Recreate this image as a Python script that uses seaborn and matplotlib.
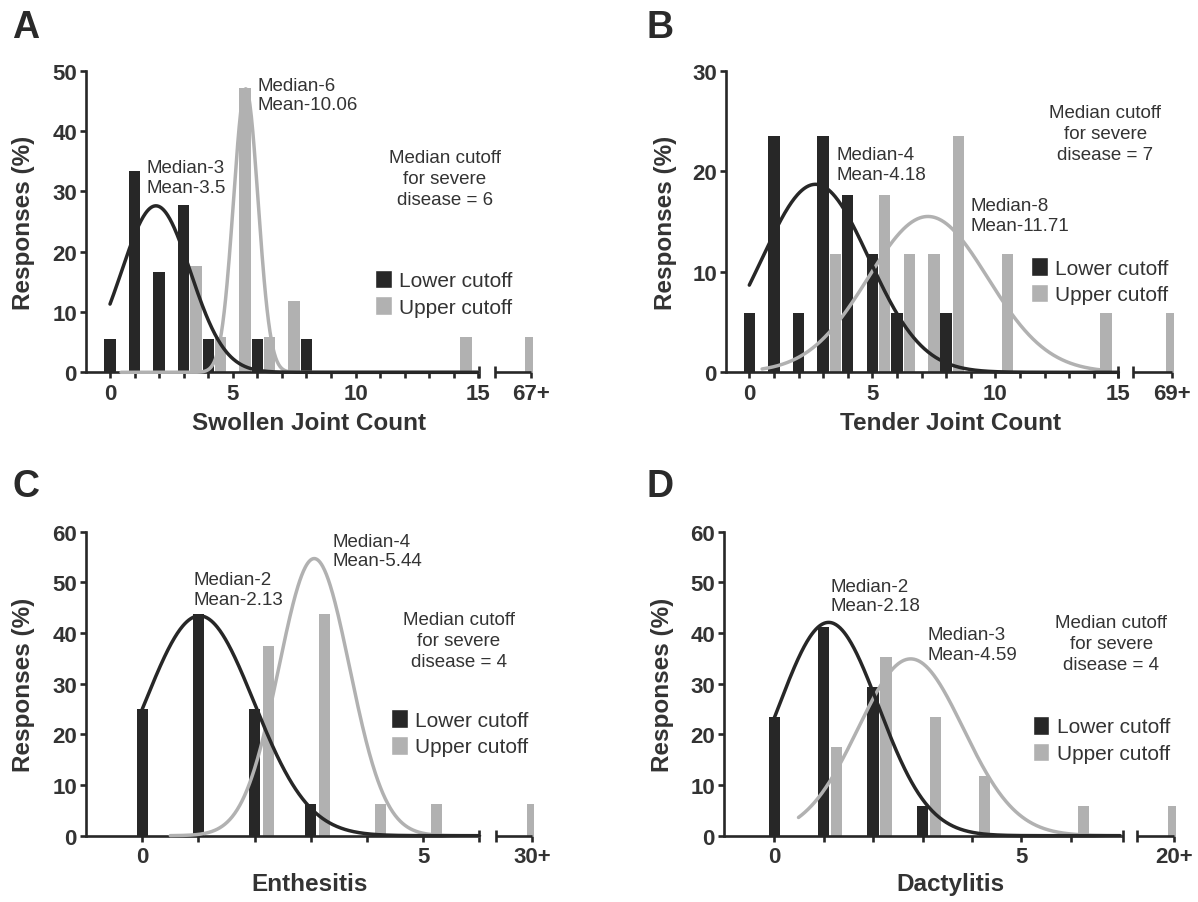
"""Four-panel histogram of lower/upper cutoff responses with Gaussian fits."""
import numpy as np
import matplotlib
matplotlib.use("Agg")
import matplotlib.pyplot as plt
from matplotlib.patches import Patch
import seaborn as sns

sns.set_style("ticks")
plt.rcParams['font.family'] = ['Liberation Sans', 'DejaVu Sans']

DARK = '#272727'
GREY = '#b1b1b1'
TEXT = '#333333'
FIG_W, FIG_H = 1198, 903

# ---- values (responses, %) ----
# A: swollen joint count
swollen_lower_x = [0, 1, 2, 3, 4, 6, 8]
swollen_lower_pct = [5.6, 33.3, 16.7, 27.8, 5.6, 5.6, 5.6]
swollen_upper_x = [3.5, 4.5, 5.5, 6.5, 7.5, 14.5]
swollen_upper_pct = [17.6, 5.9, 47.1, 5.9, 11.8, 5.9]
swollen_tail_label = '67+'
swollen_tail_pct = 5.9
swollen_fit_lower = [27.6, 1.87, 1.40]   # peak, centre, sd of the fitted gaussian
swollen_fit_upper = [47.0, 5.53, 0.50]
swollen_notes = ['Median-3\nMean-3.5', 'Median-6\nMean-10.06', 6]

# B: tender joint count
tender_lower_x = [0, 1, 2, 3, 4, 5, 6, 8]
tender_lower_pct = [5.9, 23.5, 5.9, 23.5, 17.6, 11.8, 5.9, 5.9]
tender_upper_x = [3.5, 5.5, 6.5, 7.5, 8.5, 10.5, 14.5]
tender_upper_pct = [11.8, 17.6, 11.8, 11.8, 23.5, 11.8, 5.9]
tender_tail_label = '69+'
tender_tail_pct = 5.9
tender_fit_lower = [18.7, 2.69, 2.17]
tender_fit_upper = [15.5, 7.26, 2.43]
tender_notes = ['Median-4\nMean-4.18', 'Median-8\nMean-11.71', 7]

# C: enthesitis
enth_lower_x = [0, 1, 2, 3]
enth_lower_pct = [25.0, 43.75, 25.0, 6.25]
enth_upper_x = [2.24, 3.24, 4.24, 5.24]
enth_upper_pct = [37.5, 43.75, 6.25, 6.25]
enth_tail_label = '30+'
enth_tail_pct = 6.25
enth_fit_lower = [43.4, 1.02, 0.97]
enth_fit_upper = [54.7, 3.06, 0.63]
enth_notes = ['Median-2\nMean-2.13', 'Median-4\nMean-5.44', 4]

# D: dactylitis
dact_lower_x = [0, 1, 2, 3]
dact_lower_pct = [23.5, 41.2, 29.4, 5.9]
dact_upper_x = [1.26, 2.26, 3.26, 4.26, 6.26]
dact_upper_pct = [17.6, 35.3, 23.5, 11.8, 5.9]
dact_tail_label = '20+'
dact_tail_pct = 5.9
dact_fit_lower = [42.1, 1.10, 1.01]
dact_fit_upper = [34.9, 2.76, 1.065]
dact_notes = ['Median-2\nMean-2.18', 'Median-3\nMean-4.59', 4]


def gauss(x, peak, centre, sd):
    return peak * np.exp(-0.5 * ((x - centre) / sd) ** 2)


def add_px_axes(fig, left, top, right, bottom):
    return fig.add_axes([left / FIG_W, 1 - bottom / FIG_H,
                         (right - left) / FIG_W, (bottom - top) / FIG_H])


panels = [
    dict(letter='A', box=(86, 71.7, 533, 373.3), xlim=(-0.978, 17.23), ymax=50,
         xlabel='Swollen Joint Count', lx=swollen_lower_x, ly=swollen_lower_pct,
         ux=swollen_upper_x, uy=swollen_upper_pct, tail=(17.15, swollen_tail_label, swollen_tail_pct),
         brk=(15.05, 15.68), major=[0, 5, 10, 15], minor=list(range(1, 15)), bar_w=0.46,
         fits=(swollen_fit_lower, swollen_fit_upper), spans=((0, 15), (0.45, 15)),
         notes=swollen_notes, note_xy=((1.49, 35.3), (6.02, 49.0), (13.63, 37.0)),
         leg=(0.647, 0.34), ylab_x=-0.114, xlab_y=-0.129, letter_xy=(12, 38)),
    dict(letter='B', box=(726, 71.7, 1174, 373.3), xlim=(-0.947, 17.26), ymax=30,
         xlabel='Tender Joint Count', lx=tender_lower_x, ly=tender_lower_pct,
         ux=tender_upper_x, uy=tender_upper_pct, tail=(17.17, tender_tail_label, tender_tail_pct),
         brk=(15.0, 15.61), major=[0, 5, 10, 15], minor=list(range(1, 15)), bar_w=0.46,
         fits=(tender_fit_lower, tender_fit_upper), spans=((0, 15), (0.52, 14.5)),
         notes=tender_notes, note_xy=((3.54, 22.5), (9.0, 17.4), (14.47, 26.7)),
         leg=(0.681, 0.382), ylab_x=-0.109, xlab_y=-0.129, letter_xy=(647, 38)),
    dict(letter='C', box=(86, 532.7, 534, 836.7), xlim=(-1.0, 6.97), ymax=60,
         xlabel='Enthesitis', lx=enth_lower_x, ly=enth_lower_pct,
         ux=enth_upper_x, uy=enth_upper_pct, tail=(6.94, enth_tail_label, enth_tail_pct),
         brk=(6.0, 6.3), major=[0, 5], minor=[1, 2, 3, 4], bar_w=0.2,
         fits=(enth_fit_lower, enth_fit_upper), spans=((0, 6), (0.5, 6)),
         notes=enth_notes, note_xy=((0.92, 52.2), (3.39, 59.8), (5.63, 44.3)),
         leg=(0.681, 0.416), ylab_x=-0.114, xlab_y=-0.118, letter_xy=(12, 497)),
    dict(letter='D', box=(724, 532.7, 1176, 836.7), xlim=(-1.018, 8.13), ymax=60,
         xlabel='Dactylitis', lx=dact_lower_x, ly=dact_lower_pct,
         ux=dact_upper_x, uy=dact_upper_pct, tail=(8.09, dact_tail_label, dact_tail_pct),
         brk=(7.05, 7.35), major=[0, 5], minor=[1, 2, 3, 4, 6], bar_w=0.228,
         fits=(dact_fit_lower, dact_fit_upper), spans=((0, 7), (0.49, 7)),
         notes=dact_notes, note_xy=((1.14, 50.9), (3.11, 41.4), (6.82, 43.7)),
         leg=(0.683, 0.394), ylab_x=-0.11, xlab_y=-0.118, letter_xy=(647, 497)),
]


def draw_panel(ax, p):
    x0, x1 = p['xlim']
    tail_pos, tail_label, tail_pct = p['tail']

    sns.barplot(x=p['lx'], y=p['ly'], native_scale=True, width=p['bar_w'], color=DARK,
                saturation=1, errorbar=None, linewidth=0, ax=ax, zorder=2)
    sns.barplot(x=list(p['ux']) + [tail_pos], y=list(p['uy']) + [tail_pct], native_scale=True,
                width=p['bar_w'], color=GREY, saturation=1, errorbar=None, linewidth=0,
                ax=ax, zorder=2)

    # broken x axis drawn by hand
    main_end, brk_start = p['brk']
    ax.spines[['top', 'right', 'bottom']].set_visible(False)
    ax.plot([x0, main_end], [0, 0], color=DARK, lw=1.9, clip_on=False, zorder=4,
            solid_capstyle='butt')
    ax.plot([brk_start, tail_pos], [0, 0], color=DARK, lw=1.9, clip_on=False, zorder=4,
            solid_capstyle='butt')
    ax.plot([main_end, brk_start], [0, 0], ls='', marker='|', ms=8, mew=1.9, color=DARK,
            clip_on=False, zorder=4)

    # gaussian fits: upper first, lower on top
    for fit, span, col in ((p['fits'][1], p['spans'][1], GREY), (p['fits'][0], p['spans'][0], DARK)):
        xs = np.linspace(span[0], span[1], 500)
        sns.lineplot(x=xs, y=gauss(xs, *fit), color=col, lw=2.5, estimator=None, ax=ax,
                     zorder=5, clip_on=False)

    ax.set_xlim(x0, x1)
    ax.set_ylim(0, p['ymax'])
    ax.set_yticks(range(0, p['ymax'] + 1, 10))
    ax.set_xticks(p['major'] + [tail_pos], labels=[str(v) for v in p['major']] + [tail_label])
    ax.set_xticks(p['minor'], minor=True)
    ax.spines['left'].set_linewidth(1.9)
    ax.spines['left'].set_color(DARK)
    ax.tick_params(axis='x', which='both', direction='out', length=4, width=1.9, color=DARK, pad=3.5)
    ax.tick_params(axis='y', direction='out', length=4.3, width=1.9, color=DARK, pad=2.2)
    ax.tick_params(labelsize=16, labelcolor=TEXT)
    for lab in ax.get_xticklabels() + ax.get_yticklabels():
        lab.set_fontweight('bold')

    ax.set_ylabel('Responses (%)', fontsize=17.5, fontweight='bold', color=TEXT)
    ax.yaxis.set_label_coords(p['ylab_x'], 0.5)
    ax.set_xlabel(p['xlabel'], fontsize=17.5, fontweight='bold', color=TEXT)
    ax.xaxis.set_label_coords(0.5, p['xlab_y'])

    low_note, up_note, cutoff = p['notes']
    (ax1, ay1), (ax2, ay2), (ax3, ay3) = p['note_xy']
    ax.text(ax1, ay1, low_note, fontsize=13.5, color=TEXT, ha='left', va='top', linespacing=1.2)
    ax.text(ax2, ay2, up_note, fontsize=13.5, color=TEXT, ha='left', va='top', linespacing=1.2)
    ax.text(ax3, ay3, f'Median cutoff\nfor severe\ndisease = {cutoff}', fontsize=13.5,
            color=TEXT, ha='center', va='top', multialignment='center', linespacing=1.3)

    handles = [Patch(facecolor=DARK, label='Lower cutoff'),
               Patch(facecolor=GREY, label='Upper cutoff')]
    leg = ax.legend(handles=handles, loc='upper left', bbox_to_anchor=p['leg'], frameon=False,
                    fontsize=15, handlelength=0.8, handleheight=1.0, handletextpad=0.35,
                    labelspacing=0.3, borderpad=0, borderaxespad=0)
    for t in leg.get_texts():
        t.set_color(TEXT)


fig = plt.figure(figsize=(FIG_W / 100, FIG_H / 100), dpi=100, facecolor='white')
for p in panels:
    ax = add_px_axes(fig, *p['box'])
    draw_panel(ax, p)
    lx, ly = p['letter_xy']
    fig.text(lx / FIG_W, 1 - ly / FIG_H, p['letter'], fontsize=27, fontweight='bold',
             color='#2a2a2a', va='baseline', ha='left')

fig.savefig('out.png', dpi=100, facecolor='white')
